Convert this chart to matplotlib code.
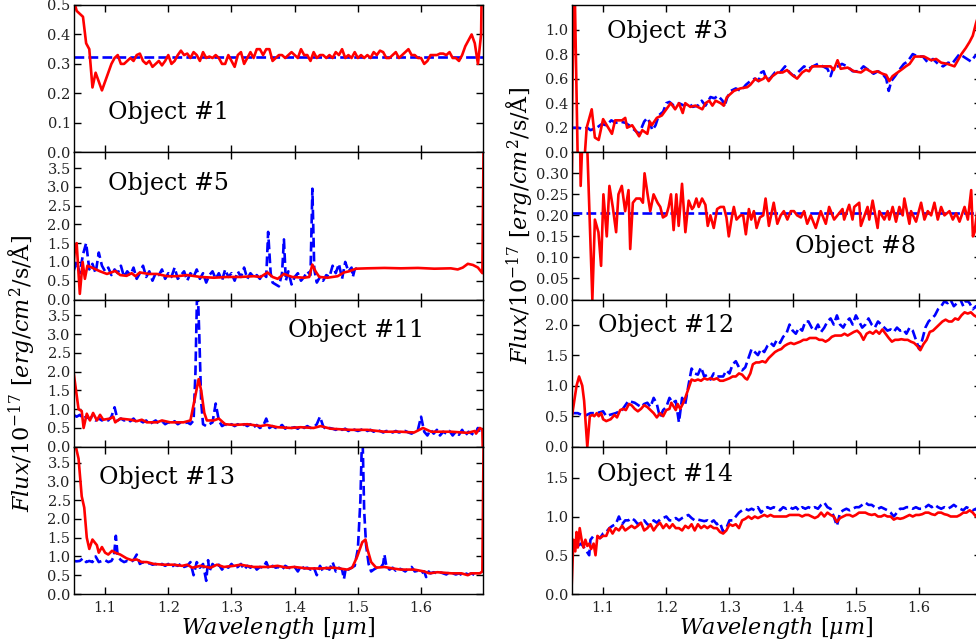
import matplotlib
matplotlib.use('Agg')
import matplotlib.pyplot as plt
import numpy as np

plt.rcParams['font.family'] = 'DejaVu Serif'
plt.rcParams['mathtext.fontset'] = 'dejavuserif'

RED = '#ff0000'
BLUE = '#0000ff'

# --- DATA: wavelength [um] / flux pairs ---

# Object #1 (red on a 0.005 um grid starting at 1.05)
obj1_red_start = 1.05
obj1_red_step = 0.005
obj1_red_flux = [
    0.52, 0.48, 0.47, 0.46, 0.37, 0.35, 0.22, 0.27, 0.24, 0.21,
    0.24, 0.27, 0.30, 0.32, 0.33, 0.30, 0.30, 0.31, 0.32, 0.31,
    0.33, 0.335, 0.31, 0.30, 0.31, 0.29, 0.30, 0.31, 0.295, 0.31,
    0.33, 0.30, 0.31, 0.33, 0.345, 0.33, 0.335, 0.32, 0.34, 0.33,
    0.31, 0.34, 0.32, 0.325, 0.32, 0.33, 0.32, 0.30, 0.30, 0.33,
    0.31, 0.29, 0.33, 0.34, 0.30, 0.32, 0.34, 0.32, 0.35, 0.35,
    0.33, 0.35, 0.35, 0.31, 0.32, 0.33, 0.33, 0.32, 0.33, 0.34,
    0.33, 0.32, 0.35, 0.33, 0.33, 0.31, 0.34, 0.32, 0.33, 0.33,
    0.32, 0.33, 0.32, 0.34, 0.33, 0.35, 0.32, 0.33, 0.32, 0.34,
    0.32, 0.33, 0.32, 0.33, 0.32, 0.34, 0.33, 0.345, 0.34, 0.32,
    0.32, 0.33, 0.34, 0.32, 0.33, 0.34, 0.35, 0.33, 0.33, 0.32,
    0.32, 0.30, 0.31, 0.33, 0.33, 0.33, 0.335, 0.335, 0.33, 0.34,
    0.32, 0.32, 0.31, 0.33, 0.36, 0.38, 0.40, 0.37, 0.30, 0.40,
    1.2]
obj1_blue = [(1.05, 0.323), (1.70, 0.323)]

# Object #5
obj5_red = [
    (1.050, 0.9), (1.052, 1.3), (1.055, 1.5), (1.060, 0.15), (1.0645, 1.0),
    (1.068, 0.55), (1.072, 0.9), (1.079, 0.85), (1.092, 0.75), (1.103, 0.68),
    (1.116, 0.76), (1.124, 0.65), (1.134, 0.63), (1.142, 0.7), (1.148, 0.62),
    (1.155, 0.72), (1.169, 0.68), (1.182, 0.68), (1.198, 0.62), (1.214, 0.62),
    (1.230, 0.65), (1.251, 0.6), (1.272, 0.58), (1.293, 0.6), (1.314, 0.6),
    (1.335, 0.62), (1.346, 0.6), (1.357, 0.72), (1.365, 0.6), (1.373, 0.55),
    (1.383, 0.68), (1.396, 0.6), (1.415, 0.58), (1.423, 0.6), (1.428, 0.93),
    (1.433, 0.75), (1.439, 0.6), (1.452, 0.58), (1.468, 0.62), (1.478, 0.72),
    (1.486, 0.75), (1.497, 0.82), (1.515, 0.83), (1.542, 0.84), (1.568, 0.83),
    (1.595, 0.84), (1.621, 0.82), (1.647, 0.83), (1.658, 0.8), (1.666, 0.85),
    (1.674, 0.95), (1.682, 0.92), (1.690, 0.85), (1.697, 0.7), (1.700, 6.0)]
obj5_blue = [
    (1.050, 0.75), (1.055, 1.0), (1.060, 0.7), (1.065, 1.2), (1.070, 1.5),
    (1.075, 0.8), (1.080, 0.95), (1.085, 0.7), (1.090, 1.25), (1.095, 0.9),
    (1.100, 0.75), (1.105, 0.85), (1.110, 0.65), (1.115, 0.8), (1.120, 0.7),
    (1.125, 0.9), (1.130, 0.6), (1.135, 0.75), (1.140, 0.65), (1.145, 0.85),
    (1.150, 0.55), (1.155, 0.7), (1.160, 0.9), (1.165, 0.6), (1.170, 0.75),
    (1.175, 0.5), (1.180, 0.7), (1.185, 0.65), (1.190, 0.8), (1.195, 0.55),
    (1.200, 0.7), (1.205, 0.6), (1.210, 0.85), (1.215, 0.55), (1.220, 0.65),
    (1.225, 0.75), (1.230, 0.5), (1.235, 0.7), (1.240, 0.6), (1.245, 0.8),
    (1.250, 0.55), (1.255, 0.7), (1.260, 0.45), (1.265, 0.65), (1.270, 0.75),
    (1.275, 0.55), (1.280, 0.7), (1.285, 0.5), (1.290, 0.8), (1.295, 0.6),
    (1.300, 0.7), (1.305, 0.5), (1.310, 0.75), (1.315, 0.6), (1.320, 0.85),
    (1.325, 0.55), (1.330, 0.7), (1.335, 0.6), (1.340, 0.65), (1.345, 0.55),
    (1.350, 0.7), (1.355, 0.6), (1.358, 1.8), (1.362, 0.7), (1.365, 0.45),
    (1.370, 0.4), (1.375, 0.35), (1.380, 0.7), (1.383, 1.6), (1.386, 0.5),
    (1.390, 0.75), (1.395, 0.4), (1.400, 0.6), (1.405, 0.7), (1.410, 0.5),
    (1.415, 0.6), (1.420, 0.75), (1.425, 0.65), (1.428, 2.95), (1.431, 0.8),
    (1.435, 0.45), (1.440, 0.6), (1.445, 0.5), (1.450, 0.65), (1.455, 0.6),
    (1.460, 0.9), (1.465, 0.7), (1.470, 0.95), (1.475, 0.55), (1.480, 1.0),
    (1.485, 0.75), (1.490, 0.85), (1.492, 0.6), (1.495, 0.8), (1.500, 0.85)]

# Object #11
obj11_red = [
    (1.050, 2.0), (1.058, 1.0), (1.063, 0.95), (1.066, 0.5), (1.071, 0.88),
    (1.076, 0.7), (1.081, 0.9), (1.087, 0.7), (1.092, 0.85), (1.097, 0.72),
    (1.108, 0.75), (1.113, 0.8), (1.116, 0.65), (1.124, 0.75), (1.140, 0.72),
    (1.150, 0.68), (1.158, 0.72), (1.166, 0.65), (1.182, 0.65), (1.190, 0.7),
    (1.203, 0.65), (1.224, 0.65), (1.235, 0.7), (1.241, 1.2), (1.248, 1.8),
    (1.252, 1.5), (1.257, 0.9), (1.261, 0.7), (1.272, 0.7), (1.280, 0.75),
    (1.290, 0.6), (1.304, 0.58), (1.325, 0.6), (1.346, 0.55), (1.356, 0.58),
    (1.373, 0.52), (1.394, 0.5), (1.409, 0.52), (1.430, 0.5), (1.441, 0.55),
    (1.457, 0.48), (1.489, 0.45), (1.515, 0.45), (1.542, 0.4), (1.568, 0.4),
    (1.589, 0.38), (1.603, 0.5), (1.616, 0.4), (1.648, 0.4), (1.674, 0.37),
    (1.685, 0.42), (1.687, 0.35), (1.693, 0.5), (1.697, 0.45), (1.700, -2.0)]
obj11_blue = [
    (1.050, 0.85), (1.055, 0.8), (1.060, 0.85), (1.065, 0.75), (1.070, 0.8),
    (1.075, 0.75), (1.080, 0.8), (1.085, 0.7), (1.090, 0.75), (1.095, 0.7),
    (1.100, 0.75), (1.105, 0.7), (1.110, 0.8), (1.115, 1.05), (1.120, 0.7),
    (1.125, 0.75), (1.130, 0.7), (1.135, 0.72), (1.140, 0.68), (1.145, 0.75),
    (1.150, 0.65), (1.155, 0.7), (1.160, 0.65), (1.165, 0.7), (1.170, 0.6),
    (1.175, 0.65), (1.180, 0.7), (1.185, 0.62), (1.190, 0.68), (1.195, 0.6),
    (1.200, 0.65), (1.205, 0.62), (1.210, 0.68), (1.215, 0.6), (1.220, 0.65),
    (1.225, 0.62), (1.230, 0.65), (1.235, 0.6), (1.240, 0.7), (1.243, 2.0),
    (1.246, 4.5), (1.249, 3.0), (1.252, 1.2), (1.255, 0.6), (1.260, 0.55),
    (1.265, 0.6), (1.270, 0.65), (1.275, 1.15), (1.280, 0.7), (1.285, 0.55),
    (1.290, 0.6), (1.295, 0.55), (1.300, 0.6), (1.305, 0.55), (1.310, 0.6),
    (1.315, 0.55), (1.320, 0.6), (1.325, 0.55), (1.330, 0.6), (1.335, 0.52),
    (1.340, 0.58), (1.345, 0.5), (1.350, 0.55), (1.355, 0.75), (1.360, 0.5),
    (1.365, 0.55), (1.370, 0.5), (1.375, 0.52), (1.380, 0.58), (1.385, 0.48),
    (1.390, 0.55), (1.395, 0.5), (1.400, 0.52), (1.405, 0.48), (1.410, 0.55),
    (1.415, 0.5), (1.420, 0.55), (1.425, 0.5), (1.430, 0.52), (1.435, 0.6),
    (1.440, 0.8), (1.445, 0.55), (1.450, 0.45), (1.455, 0.5), (1.460, 0.48),
    (1.465, 0.45), (1.470, 0.5), (1.475, 0.45), (1.480, 0.48), (1.485, 0.42),
    (1.490, 0.48), (1.495, 0.45), (1.500, 0.42), (1.505, 0.45), (1.510, 0.48),
    (1.515, 0.42), (1.520, 0.45), (1.525, 0.4), (1.530, 0.45), (1.535, 0.42),
    (1.540, 0.38), (1.545, 0.42), (1.550, 0.4), (1.555, 0.38), (1.560, 0.42),
    (1.565, 0.38), (1.570, 0.4), (1.575, 0.42), (1.580, 0.38), (1.585, 0.35),
    (1.590, 0.4), (1.595, 0.45), (1.600, 0.8), (1.605, 0.4), (1.610, 0.3),
    (1.615, 0.45), (1.620, 0.35), (1.625, 0.45), (1.630, 0.3), (1.635, 0.4),
    (1.640, 0.35), (1.645, 0.42), (1.650, 0.3), (1.655, 0.4), (1.660, 0.32),
    (1.665, 0.45), (1.670, 0.3), (1.675, 0.4), (1.680, 0.35), (1.685, 0.3),
    (1.690, 0.5), (1.695, 0.3)]

# Object #13
obj13_red = [
    (1.050, 4.2), (1.058, 3.6), (1.063, 2.6), (1.067, 2.3), (1.071, 1.5),
    (1.075, 1.2), (1.080, 1.45), (1.087, 1.3), (1.090, 1.1), (1.095, 1.25),
    (1.100, 1.1), (1.105, 1.05), (1.111, 1.15), (1.116, 1.1), (1.124, 1.05),
    (1.134, 0.95), (1.142, 0.9), (1.150, 0.92), (1.158, 0.85), (1.166, 0.85),
    (1.177, 0.8), (1.193, 0.78), (1.208, 0.78), (1.222, 0.75), (1.230, 0.78),
    (1.238, 0.7), (1.251, 0.75), (1.267, 0.7), (1.277, 0.78), (1.288, 0.72),
    (1.304, 0.75), (1.314, 0.78), (1.335, 0.72), (1.357, 0.72), (1.373, 0.75),
    (1.388, 0.7), (1.399, 0.72), (1.420, 0.68), (1.441, 0.68), (1.462, 0.7),
    (1.483, 0.65), (1.491, 0.7), (1.499, 1.0), (1.507, 1.38), (1.512, 1.45),
    (1.515, 1.2), (1.521, 0.85), (1.529, 0.7), (1.542, 0.72), (1.555, 0.68),
    (1.568, 0.65), (1.589, 0.65), (1.605, 0.6), (1.613, 0.55), (1.626, 0.58),
    (1.648, 0.55), (1.664, 0.55), (1.674, 0.5), (1.679, 0.55), (1.693, 0.55),
    (1.697, 0.6), (1.700, 6.0)]
obj13_blue = [
    (1.050, 0.88), (1.055, 0.87), (1.060, 0.88), (1.065, 0.95), (1.070, 0.85),
    (1.075, 0.88), (1.080, 0.85), (1.085, 1.0), (1.090, 0.85), (1.095, 0.88),
    (1.100, 0.9), (1.105, 0.85), (1.110, 0.88), (1.114, 1.0), (1.117, 1.55),
    (1.120, 1.0), (1.125, 0.9), (1.130, 0.85), (1.135, 0.88), (1.140, 0.85),
    (1.145, 0.9), (1.150, 1.05), (1.155, 0.8), (1.160, 0.85), (1.165, 0.8),
    (1.170, 0.82), (1.175, 0.78), (1.180, 0.8), (1.185, 0.75), (1.190, 0.8),
    (1.195, 0.75), (1.200, 0.8), (1.205, 0.72), (1.210, 0.78), (1.215, 0.75),
    (1.220, 0.8), (1.225, 0.72), (1.230, 0.75), (1.235, 0.85), (1.240, 0.5),
    (1.245, 0.85), (1.250, 0.7), (1.255, 0.8), (1.260, 0.35), (1.263, 0.9),
    (1.265, 0.6), (1.270, 0.8), (1.275, 0.7), (1.280, 0.78), (1.285, 0.65),
    (1.290, 0.75), (1.295, 0.7), (1.300, 0.8), (1.305, 0.7), (1.310, 0.72),
    (1.315, 0.8), (1.320, 0.65), (1.325, 0.75), (1.330, 0.7), (1.335, 0.78),
    (1.340, 0.65), (1.345, 0.72), (1.350, 0.7), (1.355, 0.85), (1.360, 0.65),
    (1.365, 0.75), (1.370, 0.7), (1.375, 0.72), (1.380, 0.65), (1.385, 0.75),
    (1.390, 0.7), (1.395, 0.68), (1.400, 0.72), (1.405, 0.6), (1.410, 0.75),
    (1.415, 0.68), (1.420, 0.7), (1.425, 0.65), (1.430, 0.72), (1.435, 0.5),
    (1.440, 0.75), (1.445, 0.6), (1.450, 0.7), (1.455, 0.65), (1.460, 0.85),
    (1.465, 0.6), (1.470, 0.7), (1.475, 0.65), (1.478, 0.4), (1.481, 0.7),
    (1.485, 0.65), (1.490, 0.7), (1.495, 0.75), (1.500, 1.2), (1.504, 2.5),
    (1.507, 4.5), (1.510, 2.2), (1.513, 1.3), (1.517, 0.8), (1.521, 0.6),
    (1.525, 0.65), (1.530, 0.7), (1.535, 0.68), (1.540, 0.8), (1.542, 1.05),
    (1.545, 0.75), (1.550, 0.65), (1.555, 0.7), (1.560, 0.62), (1.565, 0.68),
    (1.570, 0.65), (1.575, 0.6), (1.580, 0.68), (1.585, 0.72), (1.590, 0.6),
    (1.595, 0.62), (1.600, 0.55), (1.605, 0.6), (1.608, 0.45), (1.612, 0.6),
    (1.615, 0.55), (1.620, 0.58), (1.625, 0.55), (1.630, 0.58), (1.635, 0.55),
    (1.640, 0.52), (1.645, 0.58), (1.650, 0.55), (1.655, 0.52), (1.660, 0.55),
    (1.665, 0.5), (1.670, 0.55), (1.675, 0.52), (1.680, 0.55), (1.685, 0.5),
    (1.690, 0.55)]

# Object #3
obj3_red = [
    (1.050, 0.05), (1.0545, 1.5), (1.061, -0.4), (1.066, -0.4), (1.074, 0.2),
    (1.082, 0.35), (1.087, 0.12), (1.093, 0.1), (1.100, 0.27), (1.114, 0.15),
    (1.119, 0.26), (1.130, 0.26), (1.135, 0.28), (1.138, 0.2), (1.146, 0.22),
    (1.151, 0.18), (1.157, 0.13), (1.162, 0.18), (1.170, 0.15), (1.174, 0.25),
    (1.177, 0.22), (1.185, 0.28), (1.193, 0.3), (1.207, 0.4), (1.214, 0.35),
    (1.220, 0.4), (1.226, 0.32), (1.230, 0.4), (1.238, 0.37), (1.246, 0.38),
    (1.257, 0.35), (1.262, 0.4), (1.268, 0.42), (1.273, 0.38), (1.278, 0.42),
    (1.286, 0.4), (1.291, 0.38), (1.296, 0.45), (1.307, 0.5), (1.317, 0.52),
    (1.328, 0.53), (1.333, 0.55), (1.341, 0.6), (1.346, 0.58), (1.354, 0.6),
    (1.357, 0.62), (1.362, 0.58), (1.368, 0.62), (1.376, 0.65), (1.384, 0.65),
    (1.391, 0.67), (1.399, 0.63), (1.407, 0.6), (1.415, 0.65), (1.421, 0.67),
    (1.426, 0.66), (1.431, 0.7), (1.439, 0.7), (1.450, 0.7), (1.460, 0.7),
    (1.465, 0.67), (1.471, 0.75), (1.476, 0.68), (1.487, 0.69), (1.497, 0.66),
    (1.508, 0.65), (1.516, 0.68), (1.526, 0.65), (1.534, 0.66), (1.542, 0.64),
    (1.548, 0.63), (1.553, 0.58), (1.558, 0.62), (1.566, 0.65), (1.574, 0.68),
    (1.579, 0.7), (1.585, 0.72), (1.593, 0.78), (1.608, 0.78), (1.619, 0.75),
    (1.627, 0.76), (1.635, 0.73), (1.645, 0.72), (1.656, 0.7), (1.667, 0.8),
    (1.674, 0.85), (1.680, 0.9), (1.685, 0.95), (1.690, 1.05), (1.693, 1.1),
    (1.700, 1.3)]
obj3_blue = [
    (1.050, 0.2), (1.060, 0.2), (1.070, 0.19), (1.075, 0.2), (1.080, 0.18),
    (1.090, 0.2), (1.098, 0.23), (1.105, 0.22), (1.113, 0.26), (1.120, 0.24),
    (1.127, 0.25), (1.135, 0.24), (1.141, 0.22), (1.150, 0.18), (1.157, 0.15),
    (1.165, 0.25), (1.170, 0.28), (1.174, 0.24), (1.178, 0.18), (1.183, 0.22),
    (1.188, 0.3), (1.195, 0.33), (1.200, 0.4), (1.205, 0.41), (1.212, 0.38),
    (1.220, 0.4), (1.228, 0.38), (1.235, 0.4), (1.242, 0.37), (1.250, 0.38),
    (1.256, 0.42), (1.262, 0.38), (1.270, 0.45), (1.276, 0.44), (1.282, 0.46),
    (1.289, 0.42), (1.292, 0.37), (1.296, 0.44), (1.302, 0.5), (1.310, 0.52),
    (1.318, 0.5), (1.326, 0.55), (1.333, 0.58), (1.340, 0.6), (1.346, 0.58),
    (1.350, 0.65), (1.354, 0.66), (1.358, 0.6), (1.364, 0.6), (1.372, 0.65),
    (1.380, 0.65), (1.388, 0.7), (1.395, 0.65), (1.402, 0.62), (1.410, 0.66),
    (1.418, 0.7), (1.425, 0.68), (1.432, 0.7), (1.440, 0.72), (1.448, 0.7),
    (1.455, 0.68), (1.460, 0.62), (1.465, 0.7), (1.472, 0.7), (1.478, 0.72),
    (1.486, 0.7), (1.495, 0.66), (1.505, 0.66), (1.512, 0.7), (1.520, 0.67),
    (1.528, 0.64), (1.535, 0.66), (1.542, 0.64), (1.548, 0.6), (1.552, 0.5),
    (1.556, 0.58), (1.562, 0.62), (1.570, 0.68), (1.576, 0.72), (1.582, 0.74),
    (1.590, 0.8), (1.598, 0.78), (1.606, 0.78), (1.614, 0.73), (1.622, 0.76),
    (1.630, 0.72), (1.638, 0.7), (1.646, 0.73), (1.652, 0.72), (1.658, 0.76),
    (1.664, 0.8), (1.670, 0.78), (1.676, 0.76), (1.682, 0.74), (1.688, 0.78),
    (1.693, 0.8)]

# Object #8
obj8_red = [
    (1.050, 0.25), (1.052, 0.45), (1.063, 0.45), (1.0645, 0.27), (1.069, 0.45),
    (1.073, 0.45), (1.083, 0.0), (1.087, 0.19), (1.0926, 0.16), (1.0968, 0.08),
    (1.1005, 0.25), (1.1058, 0.15), (1.110, 0.27), (1.1153, 0.22), (1.1206, 0.16),
    (1.1243, 0.25), (1.1296, 0.27), (1.1349, 0.21), (1.1402, 0.26), (1.1429, 0.12),
    (1.1471, 0.23), (1.1524, 0.24), (1.1587, 0.24), (1.1630, 0.23), (1.1656, 0.30),
    (1.1704, 0.25), (1.1746, 0.21), (1.1799, 0.25), (1.1862, 0.23), (1.1905, 0.22),
    (1.1947, 0.195), (1.2000, 0.20), (1.2037, 0.22), (1.2074, 0.25), (1.2116, 0.165),
    (1.2159, 0.25), (1.2196, 0.175), (1.2249, 0.275), (1.2302, 0.16), (1.2354, 0.235),
    (1.2407, 0.215), (1.2434, 0.22), (1.2476, 0.24), (1.2513, 0.22), (1.2566, 0.24),
    (1.2619, 0.225), (1.2656, 0.175), (1.2698, 0.20), (1.2751, 0.17), (1.2804, 0.215),
    (1.2857, 0.22), (1.2910, 0.22), (1.2952, 0.195), (1.2989, 0.15), (1.3042, 0.20),
    (1.3069, 0.22), (1.3111, 0.19), (1.3175, 0.20), (1.3217, 0.20), (1.3259, 0.155),
    (1.3307, 0.215), (1.3344, 0.19), (1.3386, 0.21), (1.3429, 0.17), (1.3481, 0.195),
    (1.3534, 0.20), (1.3571, 0.24), (1.3624, 0.175), (1.370, 0.23), (1.3757, 0.18),
    (1.381, 0.20), (1.386, 0.21), (1.3916, 0.19), (1.397, 0.21), (1.402, 0.21),
    (1.407, 0.20), (1.413, 0.195), (1.418, 0.21), (1.423, 0.18), (1.4286, 0.20),
    (1.4365, 0.17), (1.4444, 0.21), (1.4524, 0.18), (1.4577, 0.22), (1.4656, 0.19),
    (1.4788, 0.215), (1.4815, 0.19), (1.4894, 0.225), (1.4947, 0.19), (1.4974, 0.22),
    (1.5053, 0.23), (1.5079, 0.175), (1.5185, 0.22), (1.5212, 0.19), (1.5265, 0.235),
    (1.5344, 0.17), (1.5371, 0.21), (1.5450, 0.19), (1.5503, 0.21), (1.5529, 0.19),
    (1.5582, 0.22), (1.5635, 0.185), (1.5688, 0.22), (1.5741, 0.20), (1.5767, 0.24),
    (1.5847, 0.18), (1.5873, 0.21), (1.5952, 0.185), (1.6032, 0.23), (1.6085, 0.19),
    (1.6138, 0.21), (1.6191, 0.20), (1.6243, 0.23), (1.6296, 0.19), (1.6349, 0.22),
    (1.6402, 0.20), (1.6481, 0.21), (1.6534, 0.19), (1.6587, 0.205), (1.6640, 0.185),
    (1.6720, 0.22), (1.6772, 0.19), (1.6825, 0.26), (1.6852, 0.15), (1.6878, 0.16),
    (1.692, 0.21), (1.700, 0.20)]
obj8_blue = [(1.05, 0.2045), (1.70, 0.2045)]

# Object #12
obj12_red = [
    (1.050, 0.45), (1.058, 1.0), (1.062, 1.15), (1.067, 1.0), (1.070, 0.75),
    (1.075, 0.0), (1.079, 0.5), (1.083, 0.52), (1.086, 0.5), (1.090, 0.55),
    (1.093, 0.5), (1.097, 0.55), (1.100, 0.45), (1.105, 0.42), (1.112, 0.45),
    (1.118, 0.52), (1.122, 0.48), (1.127, 0.6), (1.132, 0.62), (1.136, 0.6),
    (1.141, 0.7), (1.145, 0.68), (1.150, 0.62), (1.155, 0.58), (1.160, 0.62),
    (1.165, 0.68), (1.170, 0.65), (1.175, 0.6), (1.180, 0.55), (1.185, 0.48),
    (1.190, 0.55), (1.195, 0.5), (1.200, 0.6), (1.205, 0.62), (1.208, 0.72),
    (1.212, 0.65), (1.215, 0.6), (1.218, 0.7), (1.222, 0.62), (1.226, 0.7),
    (1.230, 0.8), (1.235, 0.95), (1.240, 1.1), (1.245, 1.08), (1.250, 1.1),
    (1.255, 1.08), (1.260, 1.12), (1.265, 1.1), (1.270, 1.12), (1.275, 1.1),
    (1.280, 1.12), (1.285, 1.08), (1.290, 1.08), (1.295, 1.1), (1.300, 1.12),
    (1.305, 1.15), (1.310, 1.15), (1.315, 1.2), (1.320, 1.18), (1.325, 1.12),
    (1.328, 1.1), (1.333, 1.2), (1.337, 1.35), (1.342, 1.38), (1.347, 1.38),
    (1.352, 1.4), (1.357, 1.38), (1.362, 1.45), (1.367, 1.5), (1.372, 1.55),
    (1.377, 1.58), (1.382, 1.6), (1.387, 1.65), (1.392, 1.68), (1.397, 1.7),
    (1.402, 1.68), (1.407, 1.7), (1.412, 1.72), (1.417, 1.75), (1.422, 1.75),
    (1.427, 1.78), (1.432, 1.78), (1.437, 1.78), (1.442, 1.75), (1.447, 1.75),
    (1.452, 1.72), (1.457, 1.75), (1.462, 1.8), (1.467, 1.82), (1.472, 1.82),
    (1.477, 1.82), (1.482, 1.85), (1.487, 1.82), (1.492, 1.85), (1.497, 1.88),
    (1.502, 1.9), (1.507, 1.85), (1.512, 1.75), (1.517, 1.85), (1.522, 1.88),
    (1.527, 1.85), (1.532, 1.9), (1.537, 1.85), (1.542, 1.92), (1.547, 1.85),
    (1.552, 1.78), (1.557, 1.72), (1.562, 1.75), (1.567, 1.75), (1.572, 1.76),
    (1.577, 1.75), (1.582, 1.75), (1.587, 1.72), (1.592, 1.7), (1.597, 1.65),
    (1.602, 1.58), (1.607, 1.68), (1.612, 1.75), (1.617, 1.88), (1.622, 1.9),
    (1.627, 1.95), (1.632, 2.0), (1.637, 2.05), (1.642, 2.08), (1.647, 2.05),
    (1.652, 2.05), (1.657, 2.1), (1.662, 2.08), (1.667, 2.15), (1.672, 2.2),
    (1.677, 2.18), (1.682, 2.2), (1.687, 2.15), (1.692, 2.12), (1.700, 2.15)]
obj12_blue = [
    (1.050, 0.55), (1.060, 0.55), (1.070, 0.5), (1.080, 0.55), (1.090, 0.55),
    (1.100, 0.58), (1.105, 0.5), (1.110, 0.52), (1.120, 0.55), (1.130, 0.6),
    (1.140, 0.75), (1.150, 0.72), (1.160, 0.65), (1.165, 0.7), (1.170, 0.72),
    (1.175, 0.65), (1.180, 0.8), (1.185, 0.7), (1.190, 0.48), (1.195, 0.6),
    (1.200, 0.65), (1.205, 0.8), (1.210, 0.72), (1.215, 0.75), (1.220, 0.4),
    (1.225, 0.8), (1.230, 0.7), (1.235, 1.0), (1.240, 1.28), (1.245, 1.2),
    (1.250, 1.18), (1.255, 1.3), (1.260, 1.15), (1.265, 1.18), (1.270, 1.1),
    (1.275, 1.2), (1.280, 1.15), (1.285, 1.15), (1.290, 1.15), (1.295, 1.25),
    (1.300, 1.2), (1.305, 1.35), (1.310, 1.4), (1.315, 1.3), (1.320, 1.25),
    (1.325, 1.3), (1.330, 1.45), (1.335, 1.6), (1.340, 1.55), (1.345, 1.5),
    (1.350, 1.6), (1.355, 1.55), (1.360, 1.65), (1.365, 1.7), (1.370, 1.65),
    (1.375, 1.75), (1.380, 1.7), (1.385, 1.8), (1.390, 1.85), (1.395, 2.0),
    (1.400, 1.9), (1.405, 1.85), (1.410, 1.95), (1.415, 1.9), (1.420, 2.05),
    (1.425, 2.05), (1.430, 1.95), (1.435, 1.9), (1.440, 2.0), (1.445, 1.88),
    (1.450, 1.95), (1.455, 2.05), (1.460, 2.1), (1.465, 2.0), (1.470, 2.15),
    (1.475, 2.0), (1.480, 1.95), (1.485, 2.05), (1.490, 2.1), (1.495, 2.0),
    (1.500, 2.15), (1.505, 2.05), (1.510, 1.95), (1.515, 2.0), (1.520, 2.1),
    (1.525, 2.0), (1.530, 1.95), (1.535, 2.05), (1.540, 2.0), (1.545, 1.95),
    (1.550, 1.9), (1.555, 1.92), (1.560, 1.88), (1.565, 1.95), (1.570, 1.9),
    (1.575, 1.92), (1.580, 1.85), (1.585, 1.95), (1.590, 1.9), (1.595, 1.75),
    (1.600, 1.6), (1.605, 1.75), (1.610, 1.95), (1.615, 2.05), (1.620, 2.1),
    (1.625, 2.15), (1.630, 2.25), (1.635, 2.3), (1.640, 2.38), (1.645, 2.35),
    (1.650, 2.4), (1.655, 2.3), (1.660, 2.35), (1.665, 2.42), (1.670, 2.3),
    (1.675, 2.4), (1.680, 2.35), (1.685, 2.25), (1.690, 2.3), (1.695, 2.2)]

# Object #14
obj14_red = [
    (1.050, 0.05), (1.053, 0.7), (1.056, 0.55), (1.058, 0.8), (1.060, 0.6),
    (1.063, 0.85), (1.066, 0.7), (1.069, 0.6), (1.072, 0.7), (1.075, 0.62),
    (1.078, 0.65), (1.081, 0.58), (1.085, 0.65), (1.088, 0.5), (1.091, 0.75),
    (1.095, 0.72), (1.100, 0.75), (1.105, 0.75), (1.110, 0.85), (1.115, 0.78),
    (1.120, 0.85), (1.125, 0.82), (1.130, 0.88), (1.135, 0.82), (1.140, 0.85),
    (1.145, 0.88), (1.150, 0.85), (1.155, 0.88), (1.160, 0.92), (1.165, 0.82),
    (1.170, 0.85), (1.175, 0.9), (1.180, 0.82), (1.185, 0.88), (1.190, 0.92),
    (1.195, 0.85), (1.200, 0.9), (1.205, 0.85), (1.210, 0.9), (1.215, 0.85),
    (1.220, 0.85), (1.225, 0.82), (1.230, 0.88), (1.235, 0.85), (1.240, 0.9),
    (1.245, 0.82), (1.250, 0.9), (1.255, 0.85), (1.260, 0.88), (1.265, 0.85),
    (1.270, 0.88), (1.275, 0.85), (1.280, 0.85), (1.285, 0.8), (1.290, 0.78),
    (1.295, 0.82), (1.300, 0.9), (1.305, 0.88), (1.310, 0.9), (1.315, 0.85),
    (1.320, 0.95), (1.325, 0.97), (1.330, 1.0), (1.335, 0.97), (1.340, 1.0),
    (1.345, 0.98), (1.350, 1.0), (1.355, 1.02), (1.360, 1.0), (1.365, 1.02),
    (1.370, 1.0), (1.375, 1.0), (1.380, 1.0), (1.385, 1.0), (1.390, 1.0),
    (1.395, 1.02), (1.400, 1.02), (1.405, 1.02), (1.410, 1.02), (1.415, 1.0),
    (1.420, 1.02), (1.425, 1.02), (1.430, 1.0), (1.435, 0.98), (1.440, 1.0),
    (1.445, 1.05), (1.450, 1.0), (1.455, 1.05), (1.460, 1.02), (1.465, 1.0),
    (1.470, 0.93), (1.475, 0.98), (1.480, 1.0), (1.485, 1.02), (1.490, 1.02),
    (1.495, 1.0), (1.500, 1.02), (1.505, 1.05), (1.510, 1.05), (1.515, 1.05),
    (1.520, 1.03), (1.525, 1.02), (1.530, 1.03), (1.535, 1.0), (1.540, 1.0),
    (1.545, 1.02), (1.550, 1.0), (1.555, 1.0), (1.560, 0.96), (1.565, 0.98),
    (1.570, 0.97), (1.575, 0.98), (1.580, 1.0), (1.585, 1.02), (1.590, 1.0),
    (1.595, 1.02), (1.600, 1.02), (1.605, 1.03), (1.610, 1.05), (1.615, 1.05),
    (1.620, 1.03), (1.625, 1.02), (1.630, 1.05), (1.635, 1.05), (1.640, 1.03),
    (1.645, 1.02), (1.650, 1.0), (1.655, 1.0), (1.660, 1.0), (1.665, 1.02),
    (1.670, 1.05), (1.675, 1.05), (1.680, 1.08), (1.685, 1.05), (1.690, 1.0),
    (1.695, 1.05), (1.700, 1.0)]
obj14_blue = [
    (1.050, 0.58), (1.055, 0.68), (1.060, 0.62), (1.065, 0.65), (1.070, 0.6),
    (1.078, 0.5), (1.080, 0.7), (1.085, 0.75), (1.090, 0.75), (1.095, 0.72),
    (1.100, 0.78), (1.105, 0.8), (1.110, 0.85), (1.115, 0.88), (1.120, 0.9),
    (1.125, 1.0), (1.130, 0.9), (1.135, 0.95), (1.140, 0.95), (1.145, 0.98),
    (1.150, 0.95), (1.155, 0.9), (1.160, 0.92), (1.165, 0.95), (1.170, 0.9),
    (1.175, 0.88), (1.180, 0.95), (1.185, 0.92), (1.190, 0.96), (1.195, 0.98),
    (1.200, 1.0), (1.205, 0.95), (1.210, 0.95), (1.215, 0.98), (1.220, 0.95),
    (1.225, 0.98), (1.230, 1.0), (1.235, 1.02), (1.240, 0.98), (1.245, 0.95),
    (1.250, 0.96), (1.255, 0.95), (1.260, 0.94), (1.265, 0.95), (1.270, 0.92),
    (1.275, 0.95), (1.280, 0.9), (1.285, 0.92), (1.290, 0.8), (1.295, 0.85),
    (1.300, 0.95), (1.305, 0.95), (1.310, 1.0), (1.315, 1.05), (1.320, 1.08),
    (1.325, 1.1), (1.330, 1.08), (1.335, 1.1), (1.340, 1.08), (1.345, 1.12),
    (1.350, 1.05), (1.355, 1.1), (1.360, 1.12), (1.365, 1.1), (1.370, 1.12),
    (1.375, 1.1), (1.380, 1.08), (1.385, 1.12), (1.390, 1.1), (1.395, 1.12),
    (1.400, 1.1), (1.405, 1.12), (1.410, 1.08), (1.415, 1.12), (1.420, 1.1),
    (1.425, 1.12), (1.430, 1.1), (1.435, 1.12), (1.440, 1.1), (1.445, 1.15),
    (1.450, 1.18), (1.455, 1.12), (1.460, 1.1), (1.465, 1.0), (1.470, 0.88),
    (1.475, 1.05), (1.480, 1.08), (1.485, 1.1), (1.490, 1.08), (1.495, 1.1),
    (1.500, 1.12), (1.505, 1.12), (1.510, 1.15), (1.515, 1.18), (1.520, 1.15),
    (1.525, 1.15), (1.530, 1.12), (1.535, 1.1), (1.540, 1.12), (1.545, 1.1),
    (1.550, 1.08), (1.555, 1.05), (1.560, 1.0), (1.565, 1.05), (1.570, 1.1),
    (1.575, 1.1), (1.580, 1.12), (1.585, 1.12), (1.590, 1.1), (1.595, 1.12),
    (1.600, 1.1), (1.605, 1.1), (1.610, 1.12), (1.615, 1.15), (1.620, 1.12),
    (1.625, 1.15), (1.630, 1.12), (1.635, 1.1), (1.640, 1.12), (1.645, 1.1),
    (1.650, 1.12), (1.655, 1.15), (1.660, 1.12), (1.665, 1.1), (1.670, 1.08),
    (1.675, 1.12), (1.680, 1.1), (1.685, 1.08), (1.690, 1.1), (1.695, 1.05)]

obj1_red = list(zip(obj1_red_start + obj1_red_step * np.arange(len(obj1_red_flux)),
                    obj1_red_flux))

xticks = [1.1, 1.2, 1.3, 1.4, 1.5, 1.6]
ticks_big = [0.0, 0.5, 1.0, 1.5, 2.0, 2.5, 3.0, 3.5]

# (column, row, label, label_xy, red, blue, ylim_top, yticks, fmt)
panels = [
    (0, 0, 'Object #1', (0.084, 0.226), obj1_red, obj1_blue, 0.5,
     [0.0, 0.1, 0.2, 0.3, 0.4, 0.5], '%.1f'),
    (0, 1, 'Object #5', (0.084, 0.744), obj5_red, obj5_blue, 3.92, ticks_big, '%.1f'),
    (0, 2, 'Object #11', (0.524, 0.747), obj11_red, obj11_blue, 3.92, ticks_big, '%.1f'),
    (0, 3, 'Object #13', (0.062, 0.745), obj13_red, obj13_blue, 3.92, ticks_big, '%.1f'),
    (1, 0, 'Object #3', (0.086, 0.778), obj3_red, obj3_blue, 1.2,
     [0.0, 0.2, 0.4, 0.6, 0.8, 1.0], '%.1f'),
    (1, 1, 'Object #8', (0.546, 0.318), obj8_red, obj8_blue, 0.35,
     [0.0, 0.05, 0.10, 0.15, 0.20, 0.25, 0.30], '%.2f'),
    (1, 2, 'Object #12', (0.065, 0.781), obj12_red, obj12_blue, 2.41,
     [0.0, 0.5, 1.0, 1.5, 2.0], '%.1f'),
    (1, 3, 'Object #14', (0.062, 0.769), obj14_red, obj14_blue, 1.9,
     [0.0, 0.5, 1.0, 1.5], '%.1f'),
]

# --- LAYOUT (pixels of a 976x644 canvas) ---
W, H = 976.0, 644.0
col_left = [73.5, 571.5]
ax_w = 409.5
ax_h = 147.25
top_px = 5.0

ylabel = r'$Flux/10^{-17}\ [erg/cm^2/\mathrm{s}/\mathrm{\AA}]$'
xlabel = r'$Wavelength\ [\mu m]$'

fig = plt.figure(figsize=(9.76, 6.44), dpi=100)

for col, row, name, (tx, ty), red, blue, ytop, yticks, fmt in panels:
    ax = fig.add_axes([col_left[col] / W, (H - (top_px + (row + 1) * ax_h)) / H,
                       ax_w / W, ax_h / H])

    bx, by = np.array(blue).T
    rx, ry = np.array(red).T
    ax.plot(bx, by, color=BLUE, linestyle='--', linewidth=1.9)
    ax.plot(rx, ry, color=RED, linestyle='-', linewidth=1.9)

    ax.set_xlim(1.05, 1.698)
    ax.set_ylim(0, ytop)
    ax.set_xticks(xticks)
    ax.set_yticks(yticks)
    ax.yaxis.set_major_formatter(matplotlib.ticker.FormatStrFormatter(fmt))
    ax.tick_params(direction='in', top=True, right=True, length=5, width=1,
                   labelsize=10.5, colors='black', labelcolor='#222222')
    ax.tick_params(axis='y', pad=2)
    ax.tick_params(axis='x', pad=5)
    for sp in ax.spines.values():
        sp.set_linewidth(1.0)

    if row < 3:
        ax.tick_params(labelbottom=False)
    else:
        ax.set_xlabel(xlabel, fontsize=16)
        ax.xaxis.set_label_coords(0.5, -0.143)
        ax.xaxis.label.set_va('top')

    ax.text(tx, ty, name, transform=ax.transAxes, fontsize=17,
            ha='left', va='baseline')

    if (col == 0 and row == 2) or (col == 1 and row == 1):
        ax.set_ylabel(ylabel, fontsize=16)
        ax.yaxis.set_label_coords(-0.089, 0.5)

fig.savefig('out.png', dpi=100)
